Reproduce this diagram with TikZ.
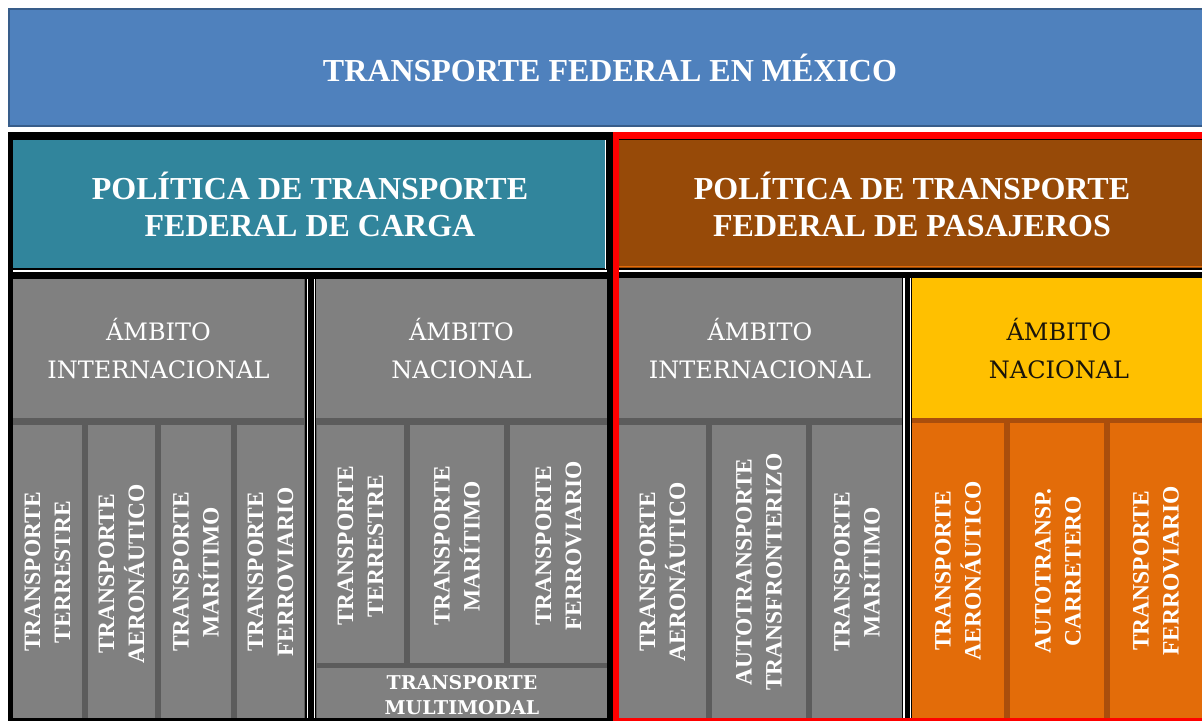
\documentclass[tikz,border=0pt]{standalone}
\usepackage{fontspec}
\setmainfont{Liberation Serif}
\newfontfamily\dvs{DejaVu Serif}
\definecolor{banblue}{RGB}{79,129,189}
\definecolor{banedge}{RGB}{56,93,138}
\definecolor{tealhd}{RGB}{49,133,156}
\definecolor{brownhd}{RGB}{151,74,8}
\definecolor{orangeln}{RGB}{228,108,10}
\definecolor{boxgray}{RGB}{128,128,128}
\definecolor{sepgray}{RGB}{92,92,92}
\definecolor{ambyellow}{RGB}{255,192,0}
\definecolor{colorange}{RGB}{227,108,9}
\definecolor{seporange}{RGB}{170,78,12}
\definecolor{darktxt}{RGB}{25,20,10}
\tikzset{
  bigtxt/.style={text=white, align=center, inner sep=0pt,
    font=\fontsize{32}{37}\selectfont\bfseries},
  ambtxt/.style={text=white, align=center, inner sep=0pt,
    font=\dvs\fontsize{24}{38}\selectfont},
  vlab/.style={text=white, align=center, inner sep=0pt, rotate=90,
    font=\fontsize{23.5}{30}\selectfont\bfseries},
  multtxt/.style={text=white, align=center, inner sep=0pt,
    font=\dvs\bfseries\fontsize{19}{25}\selectfont},
  wline/.style={white, line width=1.6pt},
}
\begin{document}
\begin{tikzpicture}[x=1pt,y=-1pt]
\useasboundingbox (0,0) rectangle (1202,721);
\fill[white] (0,0) rectangle (1202,721);
% banner
\filldraw[fill=banblue, draw=banedge, line width=1.5pt] (9,9) rectangle (1215,126);
\node[bigtxt] (title) at (610,68) {TRANSPORTE FEDERAL EN MÉXICO};
% frames
\fill[black] (8,132) rectangle (613,721);
\fill[red] (613,132) rectangle (1215,721);
\fill[black] (619,139) rectangle (1215,718);
% headers
\fill[tealhd] (13,140) rectangle (605,268);
\draw[white, line width=0.8pt] (605.5,140) -- (605.5,269);
\node[bigtxt] (cargo) at (310,204) {POLÍTICA DE TRANSPORTE\\FEDERAL DE CARGA};
\fill[brownhd] (619,140) rectangle (1215,268);
\draw[orangeln, line width=1.8pt] (619,266.5) -- (1215,266.5);
\node[bigtxt] (pasaj) at (912,204) {POLÍTICA DE TRANSPORTE\\FEDERAL DE PASAJEROS};
\draw[wline] (13,271) -- (607,271);
\draw[wline] (619,271) -- (1215,271);
% ---------- left (carga) ----------
\fill[sepgray] (13,279) rectangle (305,718);
\fill[boxgray] (13,279) rectangle (304,418);
\node[ambtxt] (ci) at (158.5,349) {ÁMBITO\\INTERNACIONAL};
\fill[boxgray] (13,425) rectangle (82,718);
\fill[boxgray] (88,425) rectangle (155,718);
\fill[boxgray] (161,425) rectangle (231,718);
\fill[boxgray] (237,425) rectangle (304,718);
\node[vlab] (ci1) at (47.5,572) {TRANSPORTE\\TERRESTRE};
\node[vlab] (ci2) at (121.5,574) {TRANSPORTE\\AERONÁUTICO};
\node[vlab] (ci3) at (196,572) {TRANSPORTE\\MARÍTIMO};
\node[vlab] (ci4) at (270.5,572) {TRANSPORTE\\FERROVIARIO};
\draw[wline] (307.5,279) -- (307.5,718);
\draw[wline] (314.5,279) -- (314.5,718);
\fill[sepgray] (316,279) rectangle (607,718);
\fill[boxgray] (316,279) rectangle (607,418);
\node[ambtxt] (cn) at (461.5,349) {ÁMBITO\\NACIONAL};
\fill[boxgray] (317,425) rectangle (404,663);
\fill[boxgray] (410,425) rectangle (504,663);
\fill[boxgray] (510,425) rectangle (607,663);
\node[vlab] (cn1) at (360.5,546) {TRANSPORTE\\TERRESTRE};
\node[vlab] (cn2) at (457,546) {TRANSPORTE\\MARÍTIMO};
\node[vlab] (cn3) at (558.5,546) {TRANSPORTE\\FERROVIARIO};
\fill[boxgray] (317,668) rectangle (607,718);
\node[multtxt] (cn4) at (462,695) {TRANSPORTE\\MULTIMODAL};
% ---------- right (pasajeros) ----------
\fill[sepgray] (619,278) rectangle (902,718);
\fill[boxgray] (619,278) rectangle (902,418);
\node[ambtxt] (pi) at (760,349) {ÁMBITO\\INTERNACIONAL};
\fill[boxgray] (619,425) rectangle (706,718);
\fill[boxgray] (712,425) rectangle (806,718);
\fill[boxgray] (812,425) rectangle (902,718);
\node[vlab] (pi1) at (662.5,572) {TRANSPORTE\\AERONÁUTICO};
\node[vlab] (pi2) at (759,572) {AUTOTRANSPORTE\\TRANSFRONTERIZO};
\node[vlab] (pi3) at (857,572) {TRANSPORTE\\MARÍTIMO};
\draw[wline] (904,278) -- (904,718);
\draw[wline] (910.5,278) -- (910.5,718);
\fill[seporange] (912,278) rectangle (1215,718);
\fill[ambyellow] (912,278) rectangle (1215,418);
\node[ambtxt, text=darktxt] (pn) at (1059,349) {ÁMBITO\\NACIONAL};
\fill[colorange] (912,423) rectangle (1004,718);
\fill[colorange] (1010,423) rectangle (1104,718);
\fill[colorange] (1110,423) rectangle (1215,718);
\node[vlab] (pn1) at (958,571) {TRANSPORTE\\AERONÁUTICO};
\node[vlab] (pn2) at (1058,571) {AUTOTRANSP.\\CARRETERO};
\node[vlab] (pn3) at (1156,571) {TRANSPORTE\\FERROVIARIO};
\end{tikzpicture}
\end{document}
